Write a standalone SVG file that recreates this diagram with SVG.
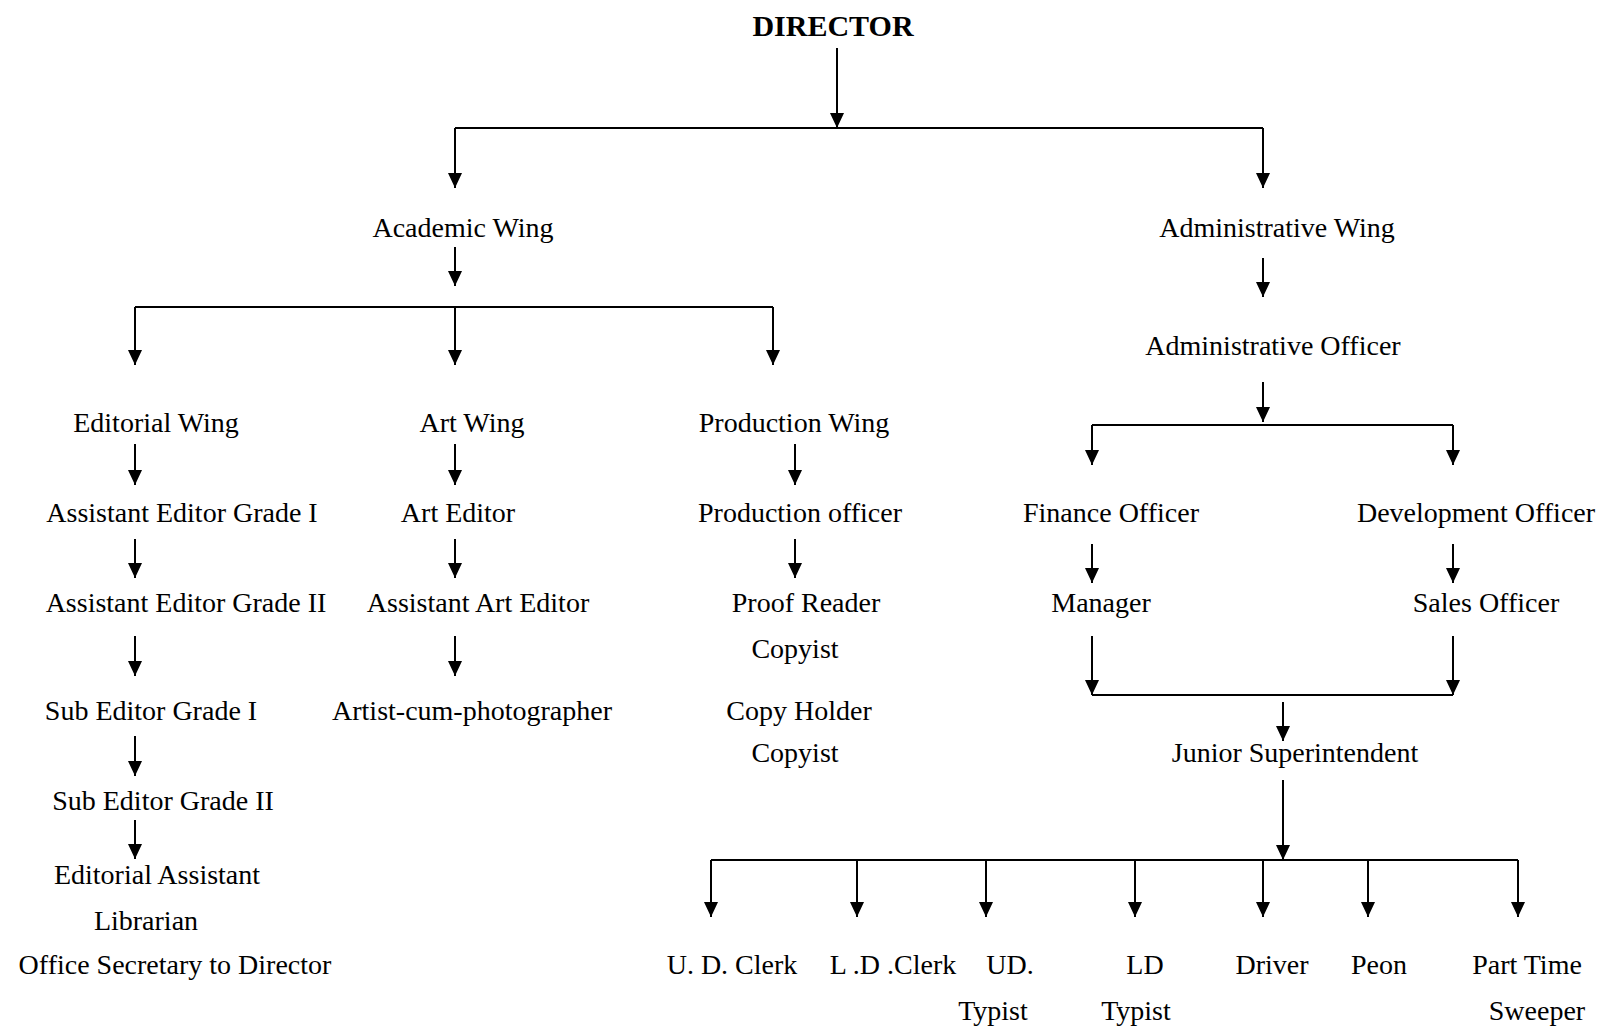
<svg xmlns="http://www.w3.org/2000/svg" width="1603" height="1028" viewBox="0 0 1603 1028">
<style>
text{font-family:"Liberation Serif","Times New Roman",serif;font-size:28px;fill:#000;text-anchor:middle}
.title{font-weight:bold;font-size:30px}
.c{fill:none;stroke:#000;stroke-width:2}
.a{marker-end:url(#ah)}
</style>
<defs>
<marker id="ah" markerUnits="userSpaceOnUse" markerWidth="16" markerHeight="14" viewBox="0 0 16 14" refX="15" refY="7" orient="auto">
<path d="M0,0 L15,7 L0,14 z" fill="#000"/>
</marker>
</defs>
<rect width="1603" height="1028" fill="#fff"/>
<g id="connectors">
<path class="c a" d="M837,48 V128"/>
<path class="c" d="M455,128 H1263"/>
<path class="c a" d="M455,128 V188"/>
<path class="c a" d="M1263,128 V188"/>
<path class="c a" d="M455,247 V286"/>
<path class="c" d="M135,307 H773"/>
<path class="c a" d="M135,307 V365"/>
<path class="c a" d="M455,307 V365"/>
<path class="c a" d="M773,307 V365"/>
<path class="c a" d="M135,444 V485"/>
<path class="c a" d="M455,444 V485"/>
<path class="c a" d="M795,444 V485"/>
<path class="c a" d="M135,539 V578"/>
<path class="c a" d="M455,539 V578"/>
<path class="c a" d="M795,539 V578"/>
<path class="c a" d="M135,636 V676"/>
<path class="c a" d="M455,636 V676"/>
<path class="c a" d="M135,736 V776"/>
<path class="c a" d="M135,820 V859"/>
<path class="c a" d="M1263,258 V297"/>
<path class="c a" d="M1263,382 V422"/>
<path class="c" d="M1092,425 H1453"/>
<path class="c a" d="M1092,425 V465"/>
<path class="c a" d="M1453,425 V465"/>
<path class="c a" d="M1092,544 V583"/>
<path class="c a" d="M1453,544 V583"/>
<path class="c a" d="M1092,636 V695"/>
<path class="c a" d="M1453,636 V695"/>
<path class="c" d="M1092,695 H1453"/>
<path class="c a" d="M1283,702 V741"/>
<path class="c a" d="M1283,780 V860"/>
<path class="c" d="M711,860 H1518"/>
<path class="c a" d="M711,860 V917"/>
<path class="c a" d="M857,860 V917"/>
<path class="c a" d="M986,860 V917"/>
<path class="c a" d="M1135,860 V917"/>
<path class="c a" d="M1263,860 V917"/>
<path class="c a" d="M1368,860 V917"/>
<path class="c a" d="M1518,860 V917"/>
</g>
<g id="director"><text class="title" x="833" y="36">DIRECTOR</text></g>
<g id="academic-wing"><text x="463" y="237">Academic Wing</text></g>
<g id="administrative-wing"><text x="1277" y="237">Administrative Wing</text></g>
<g id="administrative-officer"><text x="1273" y="355">Administrative Officer</text></g>
<g id="editorial-wing"><text x="156" y="432">Editorial Wing</text></g>
<g id="art-wing"><text x="472" y="432">Art Wing</text></g>
<g id="production-wing"><text x="794" y="432">Production Wing</text></g>
<g id="asst-editor-1"><text x="182" y="522">Assistant Editor Grade I</text></g>
<g id="art-editor"><text x="458" y="522">Art Editor</text></g>
<g id="production-officer"><text x="800" y="522">Production officer</text></g>
<g id="finance-officer"><text x="1111" y="522">Finance Officer</text></g>
<g id="development-officer"><text x="1476" y="522">Development Officer</text></g>
<g id="asst-editor-2"><text x="186" y="612">Assistant Editor Grade II</text></g>
<g id="asst-art-editor"><text x="478" y="612">Assistant Art Editor</text></g>
<g id="proof-reader"><text x="806" y="612">Proof Reader</text></g>
<g id="manager"><text x="1101" y="612">Manager</text></g>
<g id="sales-officer"><text x="1486" y="612">Sales Officer</text></g>
<g id="copyist-1"><text x="795" y="658">Copyist</text></g>
<g id="sub-editor-1"><text x="151" y="720">Sub Editor Grade I</text></g>
<g id="artist"><text x="472" y="720">Artist-cum-photographer</text></g>
<g id="copy-holder"><text x="799" y="720">Copy Holder</text></g>
<g id="copyist-2"><text x="795" y="762">Copyist</text></g>
<g id="junior-superintendent"><text x="1295" y="762">Junior Superintendent</text></g>
<g id="sub-editor-2"><text x="163" y="810">Sub Editor Grade II</text></g>
<g id="editorial-assistant"><text x="157" y="884">Editorial Assistant</text></g>
<g id="librarian"><text x="146" y="930">Librarian</text></g>
<g id="office-secretary"><text x="175" y="974">Office Secretary to Director</text></g>
<g id="ud-clerk"><text x="732" y="974">U. D. Clerk</text></g>
<g id="ld-clerk"><text x="893" y="974">L .D .Clerk</text></g>
<g id="ud-typist"><text x="1010" y="974">UD.</text><text x="993" y="1020">Typist</text></g>
<g id="ld-typist"><text x="1145" y="974">LD</text><text x="1136" y="1020">Typist</text></g>
<g id="driver"><text x="1272" y="974">Driver</text></g>
<g id="peon"><text x="1379" y="974">Peon</text></g>
<g id="part-time-sweeper"><text x="1527" y="974">Part Time</text><text x="1537" y="1020">Sweeper</text></g>
</svg>
